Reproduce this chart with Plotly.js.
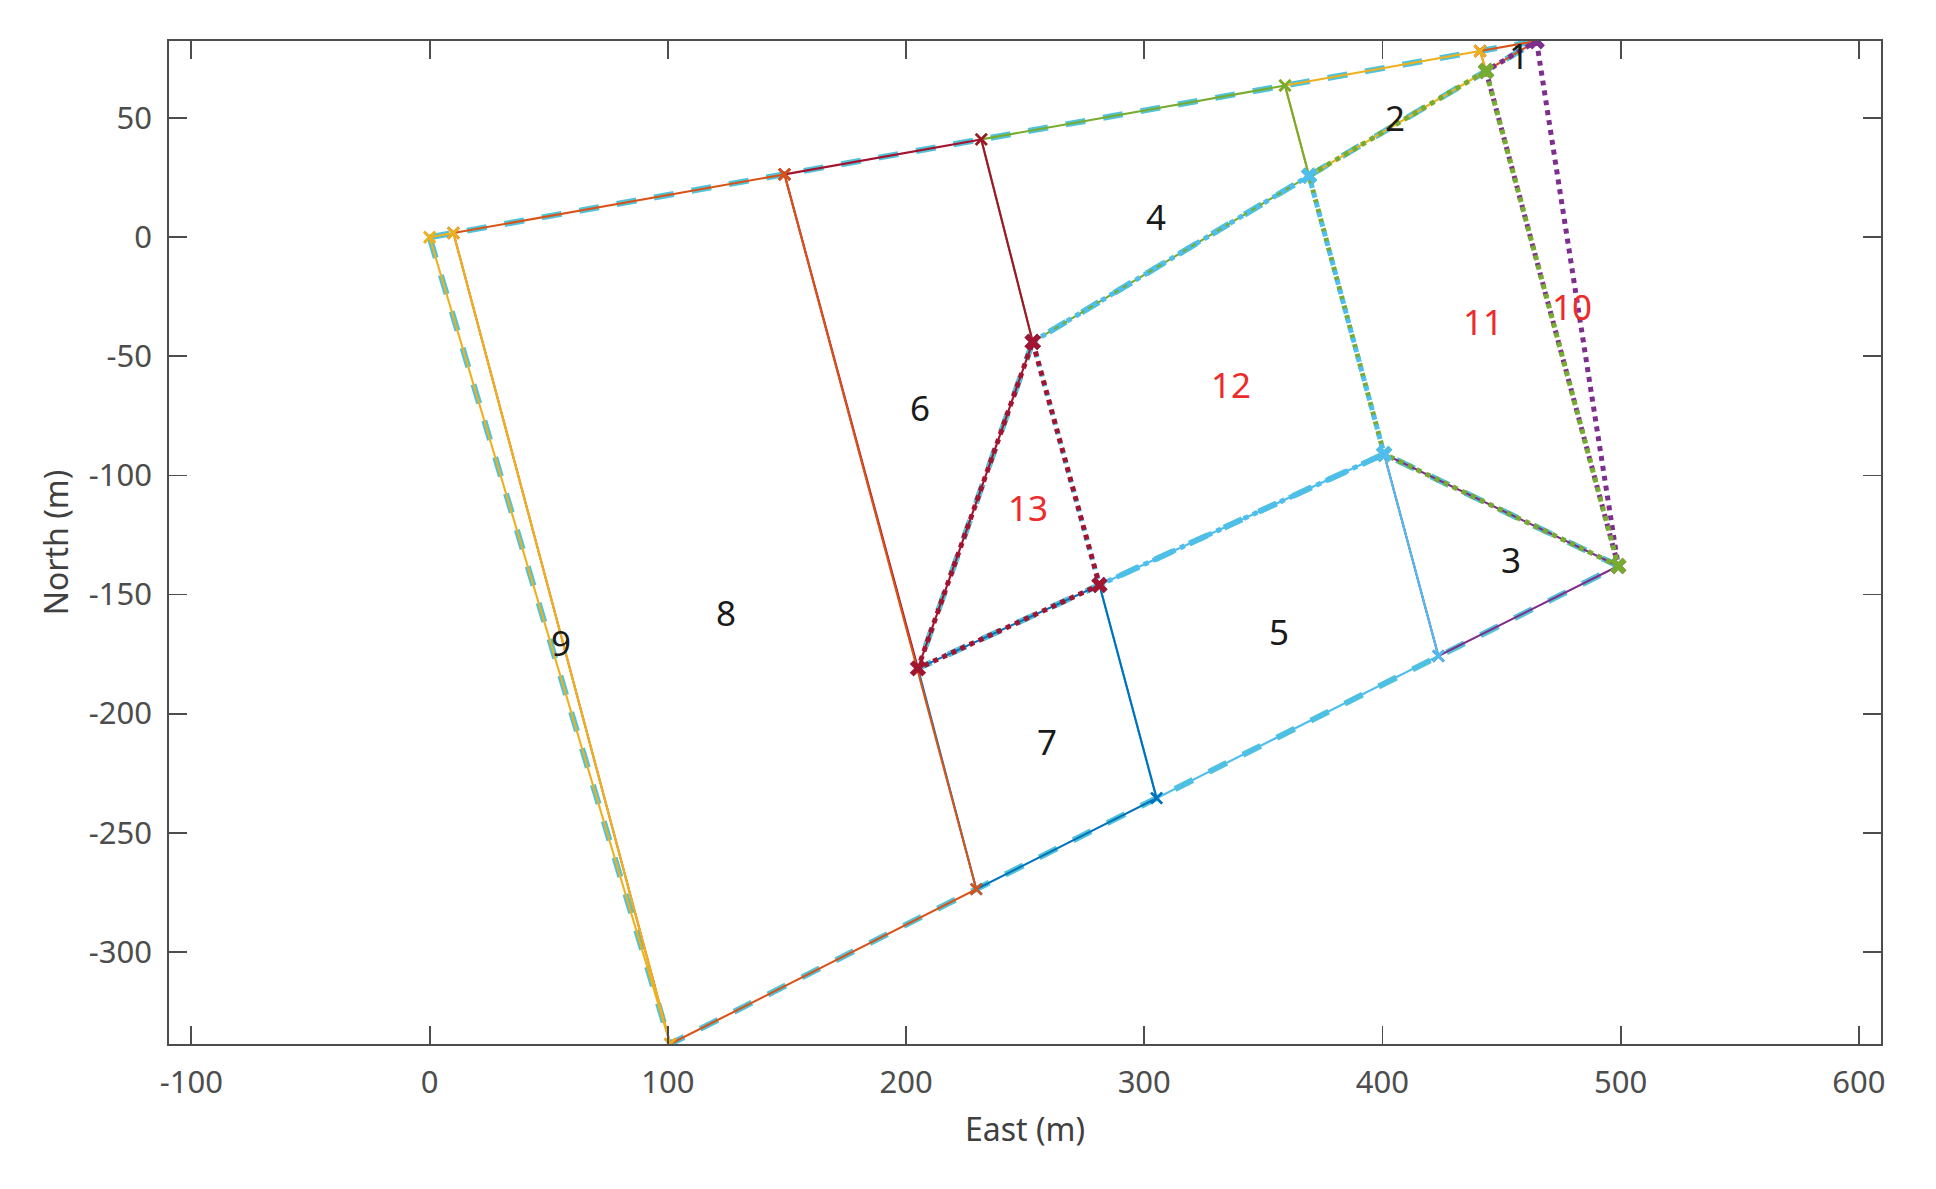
<!DOCTYPE html>
<html>
<head>
<meta charset="utf-8">
<script src="https://cdn.plot.ly/plotly-3.0.1.min.js"></script>
<style>
  html, body { margin: 0; padding: 0; background: #fff; }
  #plot { width: 1936px; height: 1189px; }
</style>
</head>
<body>
<div id="plot"></div>
<script>
// corner points of the parcels (East, North in m)
const nodeEast  = [0, 10, 149, 231.6, 359.1, 441, 464.7, 443.5, 369.2, 253.2, 400.7, 499, 423.5, 305.2, 281.2, 205, 229.5, 101];
const nodeNorth = [0, 1.8, 26.4, 41.1, 63.7, 78.2, 82.4, 69.8, 25.8, -43.9, -91, -138, -175.8, -235.5, -146, -181, -273.7, -338.7];

// parcels 1..9 (solid) as lists of node indices
const parcelNodes = [
  [5, 6, 7],
  [4, 5, 7, 8],
  [10, 11, 12],
  [3, 4, 8, 9],
  [14, 10, 12, 13],
  [2, 3, 9, 15],
  [15, 14, 13, 16],
  [1, 2, 16, 17],
  [0, 1, 17]
];
// zones 10..13 (dotted)
const zoneNodes = [
  [6, 11, 7],
  [7, 8, 10, 11],
  [9, 8, 10, 14],
  [9, 14, 15]
];
// outline of the site (thick dashed)
const outlineNodes = [0, 1, 2, 3, 4, 5, 6, 7, 8, 9, 15, 14, 10, 11, 12, 13, 16, 17, 0];

const labelText  = ['1', '2', '3', '4', '5', '6', '7', '8', '9', '10', '11', '12', '13'];
const labelEast  = [457.2, 405.3, 454.1, 304.8, 356.6, 205.8, 259.2, 124.4, 55.0, 479.5, 442.2, 336.4, 251.4];
const labelNorth = [76.2, 50.3, -135.3, 8.8, -165.4, -71.6, -211.5, -157.6, -170.0, -29.1, -35.3, -61.7, -113.6];

const xTicks = [-100, 0, 100, 200, 300, 400, 500, 600];
const yTicks = [-300, -250, -200, -150, -100, -50, 0, 50];

const palette = ['#0072BD', '#D95319', '#EDB120', '#7E2F8E', '#77AC30', '#4DBEEE', '#A2142F'];

function ring(idx) {
  const closed = idx.concat([idx[0]]);
  return {
    x: closed.map((i) => nodeEast[i]),
    y: closed.map((i) => nodeNorth[i])
  };
}

const traces = [];

traces.push({
  x: outlineNodes.map((i) => nodeEast[i]),
  y: outlineNodes.map((i) => nodeNorth[i]),
  mode: 'lines',
  line: { color: '#52C2D6', width: 6, dash: '20px,18px' },
  hoverinfo: 'skip'
});

parcelNodes.forEach((idx, k) => {
  const r = ring(idx);
  const col = palette[(k + 1) % 7];
  traces.push({
    x: r.x, y: r.y,
    mode: 'lines+markers',
    line: { color: col, width: 2.1 },
    marker: { symbol: 'x-thin', size: 11, line: { color: col, width: 2.6 } }
  });
});

zoneNodes.forEach((idx, k) => {
  const r = ring(idx);
  const col = palette[(k + 10) % 7];
  traces.push({
    x: r.x, y: r.y,
    mode: 'lines+markers',
    line: { color: col, width: 5, dash: '5px,5px' },
    marker: { symbol: 'x-thin', size: 12.5, line: { color: col, width: 5.5 } }
  });
});

const annotations = labelText.map((t, i) => ({
  x: labelEast[i],
  y: labelNorth[i],
  text: t,
  showarrow: false,
  xanchor: 'center',
  yanchor: 'middle',
  font: { family: 'Noto Sans, sans-serif', size: 35, color: i < 9 ? '#1a1a1a' : '#EE2B2B' }
}));

const axisCommon = {
  ticks: 'inside',
  ticklen: 18,
  tickwidth: 1.8,
  tickcolor: '#4d4d4d',
  showline: true,
  linecolor: '#4d4d4d',
  linewidth: 1.8,
  mirror: 'ticks',
  showgrid: false,
  zeroline: false,
  tickfont: { family: 'Noto Sans, sans-serif', size: 31, color: '#4d4d4d' }
};

const layout = {
  width: 1936,
  height: 1189,
  margin: { l: 169, r: 55, t: 41, b: 145 },
  showlegend: false,
  paper_bgcolor: '#fff',
  plot_bgcolor: '#fff',
  xaxis: Object.assign({}, axisCommon, {
    range: [-109.4, 609.3],
    tickvals: xTicks,
    ticktext: xTicks.map(String),
    ticklabelstandoff: 10,
    title: { text: 'East (m)', standoff: 17, font: { family: 'Noto Sans, sans-serif', size: 32, color: '#404040' } }
  }),
  yaxis: Object.assign({}, axisCommon, {
    range: [-338.7, 82.4],
    tickvals: yTicks,
    ticktext: yTicks.map(String),
    ticklabelstandoff: 9,
    title: { text: 'North (m)', standoff: 11, font: { family: 'Noto Sans, sans-serif', size: 32, color: '#404040' } }
  }),
  annotations: annotations
};

Plotly.newPlot('plot', traces, layout, { staticPlot: true });
</script>
</body>
</html>
